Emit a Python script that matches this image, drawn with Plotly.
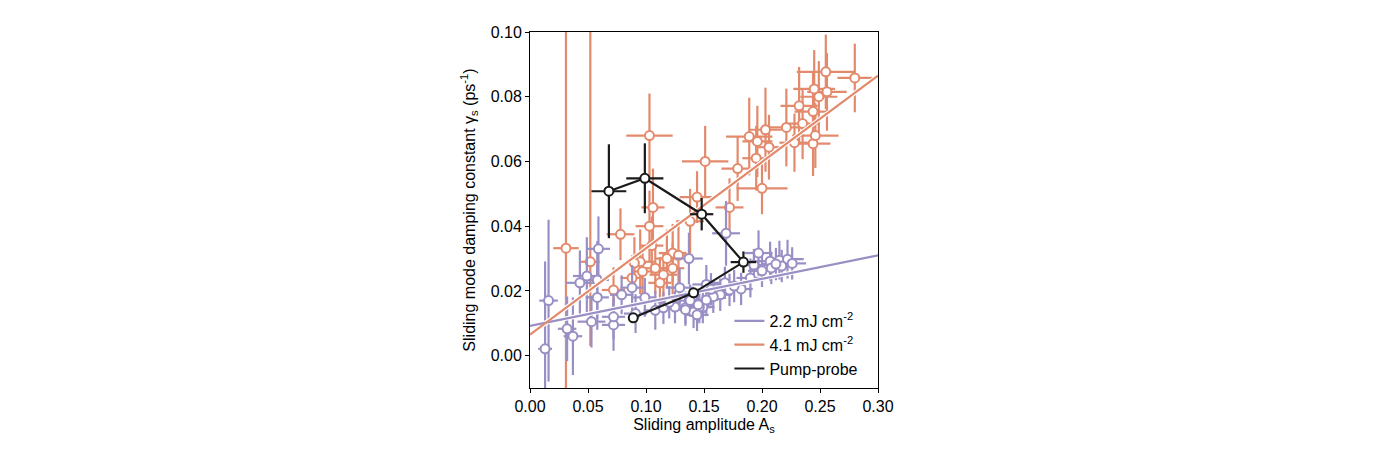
import plotly.graph_objects as go

# ---------------- data ----------------
# 2.2 mJ cm-2 (purple)
p_x = [0.013, 0.016, 0.032, 0.037, 0.043, 0.049, 0.059, 0.058, 0.058, 0.053,
       0.072, 0.072, 0.079, 0.088, 0.091, 0.099, 0.108, 0.115, 0.129, 0.137,
       0.134, 0.144, 0.149, 0.152, 0.169, 0.197, 0.207, 0.215, 0.222, 0.217,
       0.208, 0.200, 0.182, 0.172, 0.164, 0.158, 0.152, 0.146, 0.141, 0.145,
       0.144, 0.134, 0.125, 0.120, 0.190, 0.176, 0.212, 0.226, 0.193, 0.168,
       0.156, 0.138]
p_y = [0.0021, 0.0170, 0.0083, 0.0060, 0.0225, 0.0246, 0.0330, 0.0234, 0.0180, 0.0105,
       0.0095, 0.0120, 0.0188, 0.0210, 0.0130, 0.0180, 0.0140, 0.0148, 0.0210, 0.0300,
       0.0148, 0.0154, 0.0150, 0.0220, 0.0378, 0.0317, 0.0292, 0.0295, 0.0298, 0.0277,
       0.0271, 0.0262, 0.0206, 0.0203, 0.0188, 0.0182, 0.0172, 0.0150, 0.0135, 0.0157,
       0.0126, 0.0142, 0.0150, 0.0165, 0.0240, 0.0215, 0.0283, 0.0285, 0.0280, 0.0225,
       0.0205, 0.0170]
p_xerr = [0.006, 0.008, 0.008, 0.008, 0.012, 0.012, 0.010, 0.010, 0.010, 0.012,
          0.010, 0.010, 0.010, 0.010, 0.010, 0.010, 0.010, 0.010, 0.012, 0.012,
          0.010, 0.010, 0.010, 0.012, 0.012, 0.012, 0.012, 0.012, 0.014, 0.012,
          0.012, 0.012, 0.010, 0.010, 0.010, 0.010, 0.010, 0.010, 0.010, 0.010,
          0.010, 0.010, 0.010, 0.010, 0.012, 0.010, 0.012, 0.012, 0.012, 0.010,
          0.010, 0.010]
p_yerr = [0.027, 0.025, 0.010, 0.012, 0.010, 0.012, 0.010, 0.012, 0.010, 0.008,
          0.008, 0.007, 0.006, 0.007, 0.006, 0.006, 0.006, 0.005, 0.006, 0.008,
          0.005, 0.005, 0.005, 0.006, 0.010, 0.007, 0.006, 0.006, 0.006, 0.005,
          0.005, 0.005, 0.005, 0.005, 0.005, 0.005, 0.005, 0.005, 0.005, 0.005,
          0.005, 0.005, 0.005, 0.005, 0.006, 0.005, 0.005, 0.005, 0.005, 0.005,
          0.005, 0.005]

# 4.1 mJ cm-2 (orange)
o_x = [0.031, 0.052, 0.072, 0.078, 0.095, 0.097, 0.103, 0.103, 0.106, 0.108,
       0.115, 0.123, 0.123, 0.128, 0.138, 0.144, 0.151, 0.172, 0.179, 0.189,
       0.195, 0.196, 0.200, 0.203, 0.206, 0.221, 0.228, 0.232, 0.235, 0.244,
       0.244, 0.245, 0.246, 0.249, 0.255, 0.256, 0.280, 0.105, 0.088, 0.090,
       0.118, 0.112]
o_y = [0.0332, 0.0290, 0.0203, 0.0375, 0.0290, 0.0260, 0.0680, 0.0400, 0.0458, 0.0270,
       0.0250, 0.0317, 0.0270, 0.0310, 0.0415, 0.0490, 0.0600, 0.0458, 0.0578, 0.0677,
       0.0610, 0.0662, 0.0517, 0.0698, 0.0644, 0.0705, 0.0658, 0.0772, 0.0717, 0.0754,
       0.0655, 0.0824, 0.0680, 0.0800, 0.0877, 0.0815, 0.0858, 0.0340, 0.0240, 0.0286,
       0.0300, 0.0225]
o_xerr = [0.011, 0.008, 0.010, 0.012, 0.012, 0.010, 0.020, 0.012, 0.010, 0.012,
          0.012, 0.012, 0.010, 0.012, 0.012, 0.015, 0.020, 0.012, 0.014, 0.020,
          0.012, 0.013, 0.022, 0.014, 0.012, 0.020, 0.013, 0.016, 0.015, 0.016,
          0.015, 0.018, 0.020, 0.016, 0.025, 0.017, 0.015, 0.010, 0.010, 0.010,
          0.010, 0.010]
o_yerr_plus = [0.075, 0.075, 0.007, 0.008, 0.010, 0.008, 0.013, 0.011, 0.012, 0.008,
               0.007, 0.009, 0.008, 0.010, 0.010, 0.008, 0.011, 0.009, 0.010, 0.012,
               0.010, 0.011, 0.008, 0.013, 0.010, 0.012, 0.009, 0.012, 0.011, 0.012,
               0.010, 0.012, 0.010, 0.011, 0.0115, 0.012, 0.0106, 0.009, 0.007, 0.008,
               0.009, 0.008]
o_yerr_minus = [0.075, 0.026, 0.007, 0.008, 0.010, 0.008, 0.013, 0.011, 0.012, 0.008,
                0.007, 0.009, 0.008, 0.010, 0.010, 0.008, 0.011, 0.009, 0.010, 0.012,
                0.010, 0.011, 0.008, 0.013, 0.010, 0.012, 0.009, 0.012, 0.011, 0.012,
                0.010, 0.012, 0.010, 0.011, 0.0115, 0.012, 0.0106, 0.009, 0.007, 0.008,
                0.009, 0.008]

# Pump-probe (black)
pp_x = [0.068, 0.099, 0.148, 0.184, 0.141, 0.089]
pp_y = [0.0508, 0.0548, 0.0437, 0.0289, 0.0194, 0.0117]
pp_xerr = [0.015, 0.016, 0.010, 0.011, 0.000, 0.000]
pp_yerr = [0.0145, 0.0108, 0.0050, 0.0033, 0.000, 0.000]

# linear fits
fit_x = [0.0, 0.30]
p_fit_y = [0.0092, 0.0310]
o_fit_y = [0.0065, 0.0865]

x_ticks = [0.00, 0.05, 0.10, 0.15, 0.20, 0.25, 0.30]
y_ticks = [0.00, 0.02, 0.04, 0.06, 0.08, 0.10]

PURPLE = "#9a8fc4"
ORANGE = "#e38a6c"
BLACK = "#1a1a1a"

FONT = "Liberation Sans, Arial, sans-serif"
FS = 16

fig = go.Figure()


def scatter_err(x, y, xe, yp, ym, color, size=9):
    return go.Scatter(
        x=x, y=y, mode="markers", showlegend=False, hoverinfo="skip",
        marker=dict(symbol="circle", size=size, color="white",
                    line=dict(color=color, width=2)),
        error_x=dict(type="data", array=xe, color=color, thickness=2.2, width=0),
        error_y=dict(type="data", array=yp, arrayminus=ym, color=color,
                     thickness=2.2, width=0, symmetric=False),
    )


fig.add_trace(scatter_err(o_x, o_y, o_xerr, o_yerr_plus, o_yerr_minus, ORANGE))
fig.add_trace(scatter_err(p_x, p_y, p_xerr, p_yerr, p_yerr, PURPLE))

# fit lines (white halo + coloured line)
for fy in (p_fit_y, o_fit_y):
    fig.add_trace(go.Scatter(x=fit_x, y=fy, mode="lines", showlegend=False,
                             hoverinfo="skip", line=dict(color="white", width=4.5)))
fig.add_trace(go.Scatter(x=fit_x, y=p_fit_y, mode="lines", name="2.2 mJ cm<sup>-2</sup>",
                         line=dict(color=PURPLE, width=2.2)))
fig.add_trace(go.Scatter(x=fit_x, y=o_fit_y, mode="lines", name="4.1 mJ cm<sup>-2</sup>",
                         line=dict(color=ORANGE, width=2.2)))

# pump-probe
fig.add_trace(go.Scatter(x=pp_x, y=pp_y, mode="lines", name="Pump-probe",
                         line=dict(color=BLACK, width=2.2)))
fig.add_trace(scatter_err(pp_x, pp_y, pp_xerr, pp_yerr, pp_yerr, BLACK, size=9))

axis_common = dict(
    showgrid=False, zeroline=False, showline=True, linecolor="black", linewidth=1,
    mirror=True, ticks="outside", ticklen=4, tickwidth=1, tickcolor="black",
    tickfont=dict(size=FS, color="black", family=FONT),
)

# the page body has an 8px margin, so the figure is offset by 8px
fig.update_layout(
    width=1380, height=434,
    margin=dict(l=522, r=510, t=24, b=54),
    paper_bgcolor="white", plot_bgcolor="white",
    font=dict(family=FONT, size=FS, color="black"),
    xaxis=dict(range=[0, 0.30], tickvals=x_ticks, tickformat=".2f",
               title=dict(text="Sliding amplitude A<sub>s</sub>", standoff=4,
                          font=dict(size=FS)),
               **axis_common),
    yaxis=dict(range=[-0.01, 0.10], tickvals=y_ticks, tickformat=".2f",
               title=dict(text="Sliding mode damping constant γ<sub>s</sub> (ps<sup>-1</sup>)",
                          standoff=11, font=dict(size=FS)),
               **axis_common),
    legend=dict(x=0.573, y=0.236, xanchor="left", yanchor="top",
                bgcolor="rgba(0,0,0,0)", font=dict(size=FS, family=FONT),
                tracegroupgap=0, itemwidth=30),
    showlegend=True,
)

fig.write_html("out.html")
